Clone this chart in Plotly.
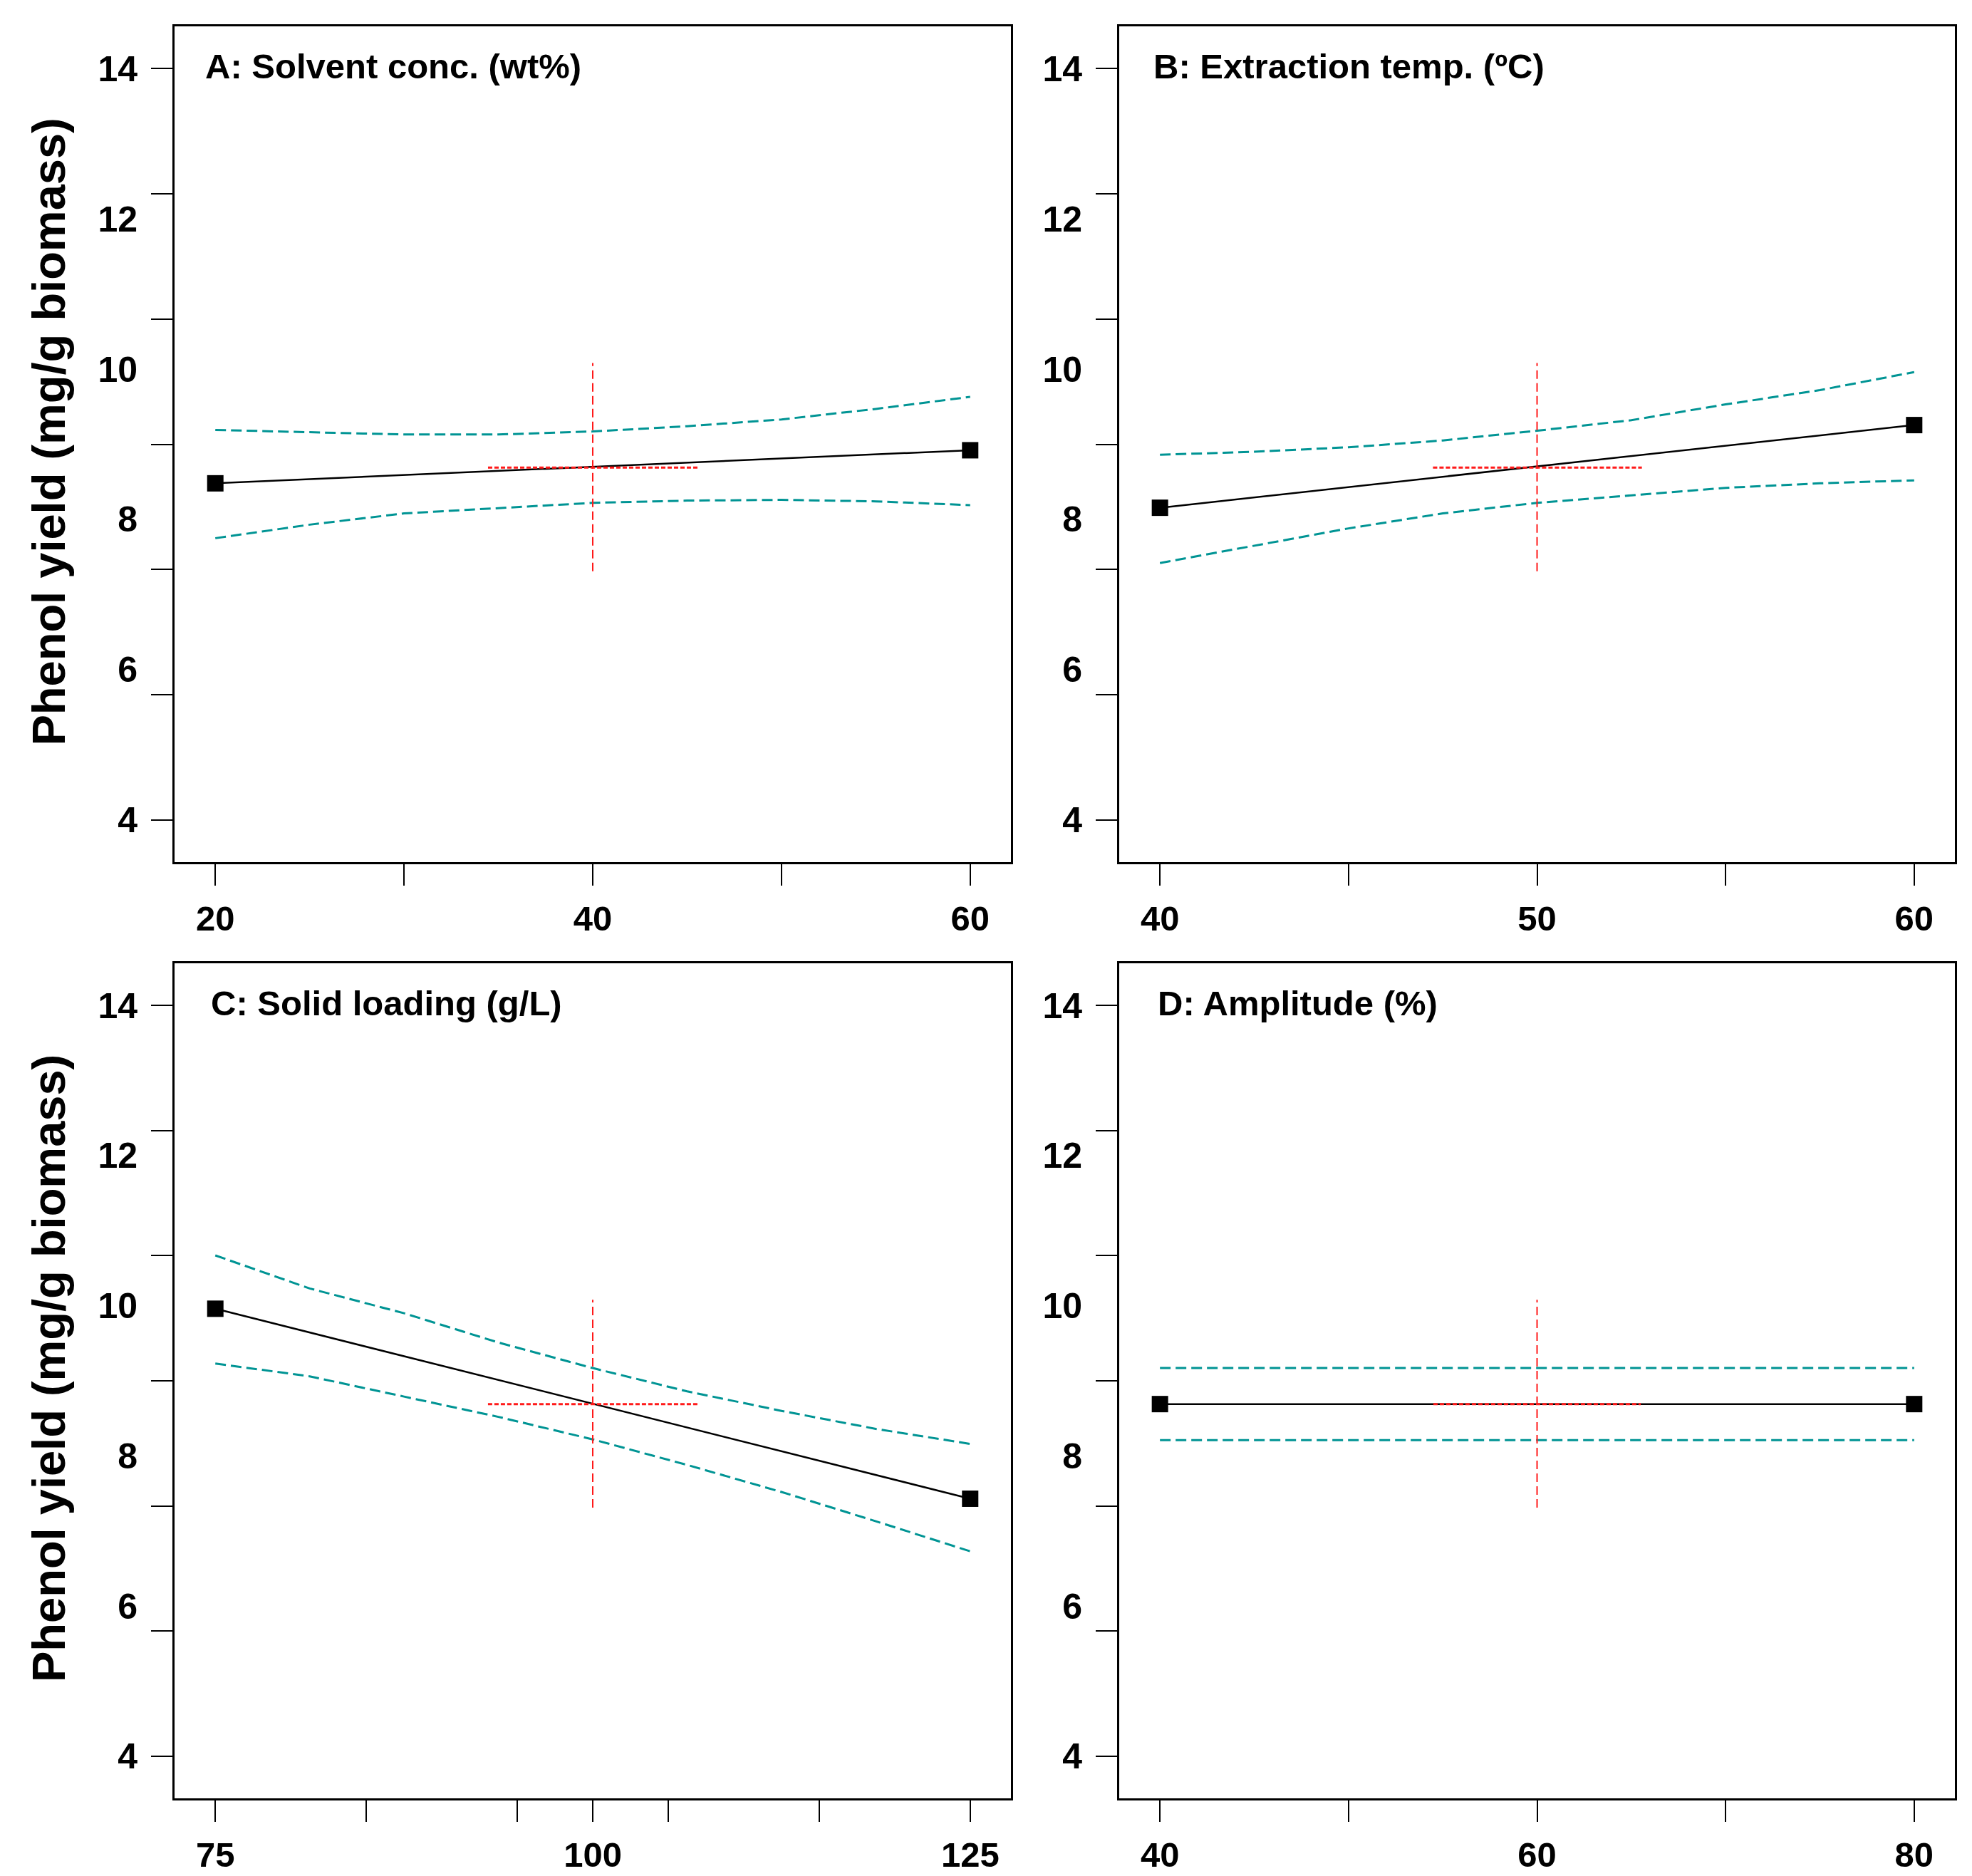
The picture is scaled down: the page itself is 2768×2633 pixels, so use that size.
import plotly.graph_objects as go

# One-factor effect plots: predicted phenol yield with 95% CI bands
W, H = 2768, 2633

panel_titles = ["A: Solvent conc. (wt%)", "B: Extraction temp. (ºC)",
                "C: Solid loading (g/L)", "D: Amplitude (%)"]

# factor levels (low, high) and predicted yield at those levels
a_levels = [20, 60]
a_mean = [8.48, 8.92]
b_levels = [40, 60]
b_mean = [8.155, 9.255]
c_levels = [75, 125]
c_mean = [9.96, 7.43]
d_levels = [40, 80]
d_mean = [8.69, 8.69]

# confidence band, read along each factor
a_x = [20, 25, 30, 35, 40, 45, 50, 55, 60]
a_upper = [9.19, 9.16, 9.13, 9.13, 9.17, 9.24, 9.33, 9.47, 9.63]
a_lower = [7.75, 7.93, 8.08, 8.15, 8.22, 8.25, 8.26, 8.24, 8.19]

b_x = [40, 42.5, 45, 47.5, 50, 52.5, 55, 57.5, 60]
b_upper = [8.86, 8.90, 8.96, 9.05, 9.18, 9.32, 9.53, 9.72, 9.96]
b_lower = [7.42, 7.65, 7.88, 8.08, 8.22, 8.32, 8.42, 8.48, 8.52]

c_x = [75, 81.25, 87.5, 93.75, 100, 106.25, 112.5, 118.75, 125]
c_upper = [10.67, 10.23, 9.90, 9.51, 9.17, 8.86, 8.60, 8.36, 8.16]
c_lower = [9.23, 9.06, 8.79, 8.52, 8.22, 7.88, 7.52, 7.13, 6.73]

d_x = [40, 80]
d_upper = [9.17, 9.17]
d_lower = [8.21, 8.21]

# centre point cross (red)
centre_x = [40, 50, 100, 60]
centre_y = 8.69
cross_x = [[34.45, 45.55], [47.24, 52.78], [93.06, 106.94], [54.5, 65.5]]
cross_y = [7.31, 10.08]

# axes
x_ranges = [[17.84, 62.16], [38.92, 61.08], [72.3, 127.7], [37.84, 82.16]]
x_tickvals = [[20, 30, 40, 50, 60], [40, 45, 50, 55, 60],
              [75, 85, 95, 100, 105, 115, 125], [40, 50, 60, 70, 80]]
x_ticktext = [["20", "", "40", "", "60"], ["40", "", "50", "", "60"],
              ["75", "", "", "100", "", "", "125"], ["40", "", "60", "", "80"]]
y_range = [3.44, 14.56]
y_labels = [4, 6, 8, 10, 12, 14]
y_tick_marks = [4 + i * 10 / 6 for i in range(7)]

y_title = "Phenol yield (mg/g biomass)"

panels = [
    (a_levels, a_mean, a_x, a_upper, a_lower),
    (b_levels, b_mean, b_x, b_upper, b_lower),
    (c_levels, c_mean, c_x, c_upper, c_lower),
    (d_levels, d_mean, d_x, d_upper, d_lower),
]

col_px = [(237, 1411), (1563, 2736)]
row_px = [(29, 1202), (1344, 2516)]
title_inset = [41, 46, 49, 52]

FONT = "Liberation Sans, Arial, sans-serif"
TEAL = "#009494"
RED = "#ff1a1a"

fig = go.Figure()
layout = dict(width=W, height=H, margin=dict(l=0, r=0, t=0, b=0),
              plot_bgcolor="white", paper_bgcolor="white", showlegend=False,
              font=dict(family=FONT, color="black"))
annotations = []

for i, (lev, mean, bx, up, lo) in enumerate(panels):
    n = i + 1
    xa = "x" if n == 1 else "x%d" % n
    ya = "y" if n == 1 else "y%d" % n
    yl = "y%d" % (n + 4)  # overlaid axis carrying the tick labels
    r, c = divmod(i, 2)

    fig.add_trace(go.Scatter(x=bx, y=up, xaxis=xa, yaxis=ya, mode="lines",
                             line=dict(color=TEAL, width=3, dash="15px,7px")))
    fig.add_trace(go.Scatter(x=bx, y=lo, xaxis=xa, yaxis=ya, mode="lines",
                             line=dict(color=TEAL, width=3, dash="15px,7px")))
    fig.add_trace(go.Scatter(x=lev, y=mean, xaxis=xa, yaxis=ya, mode="lines+markers",
                             line=dict(color="black", width=2.5),
                             marker=dict(symbol="square", size=23, color="black")))
    # red cross at the centre point (same range on the overlaid axis)
    fig.add_trace(go.Scatter(x=[centre_x[i], centre_x[i]], y=cross_y, xaxis=xa, yaxis=yl,
                             mode="lines", line=dict(color=RED, width=2, dash="12px,6px")))
    fig.add_trace(go.Scatter(x=cross_x[i], y=[centre_y, centre_y], xaxis=xa, yaxis=yl,
                             mode="lines", line=dict(color=RED, width=3, dash="6px,3px")))

    x0, x1 = col_px[c]
    y0, y1 = row_px[r]
    xdom = [x0 / W, x1 / W]
    ydom = [1 - y1 / H, 1 - y0 / H]

    layout["xaxis" if n == 1 else "xaxis%d" % n] = dict(
        domain=xdom, anchor=ya, range=x_ranges[i], tickvals=x_tickvals[i],
        ticktext=x_ticktext[i], ticks="outside", ticklen=30, tickwidth=2,
        tickcolor="black", showline=True, mirror=True, linecolor="black",
        linewidth=2.5, showgrid=False, zeroline=False, ticklabelstandoff=4,
        tickfont=dict(size=49, family=FONT, weight="bold", color="black"))
    # tick marks (no labels) on the box axis
    layout["yaxis" if n == 1 else "yaxis%d" % n] = dict(
        domain=ydom, anchor=xa, range=y_range, tickvals=y_tick_marks,
        showticklabels=False, ticks="outside", ticklen=30, tickwidth=2,
        tickcolor="black", showline=True, mirror=True, linecolor="black",
        linewidth=2.5, showgrid=False, zeroline=False)
    # labels sit on an overlaid axis, offset from the marks as in the original
    layout["yaxis%d" % (n + 4)] = dict(
        overlaying=ya, anchor=xa, side="left", range=y_range, tickvals=y_labels,
        ticks="outside", ticklen=30, tickcolor="rgba(0,0,0,0)", showline=False,
        showgrid=False, zeroline=False, ticklabelstandoff=11,
        tickfont=dict(size=50, family=FONT, weight="bold", color="black"))

    annotations.append(dict(
        text=panel_titles[i], xref="paper", yref="paper",
        x=(x0 + title_inset[i]) / W, y=1 - (y0 + 56) / H,
        xanchor="left", yanchor="middle", showarrow=False,
        font=dict(size=49, family=FONT, weight="bold", color="black")))

    if c == 0:
        annotations.append(dict(
            text=y_title, xref="paper", yref="paper", x=60 / W,
            y=1 - ((y0 + y1) / 2 - 17) / H, textangle=-90, xanchor="center",
            yanchor="middle", showarrow=False,
            font=dict(size=65, family=FONT, weight="bold", color="black")))

layout["annotations"] = annotations
fig.update_layout(**layout)
fig.write_html("out.html")
